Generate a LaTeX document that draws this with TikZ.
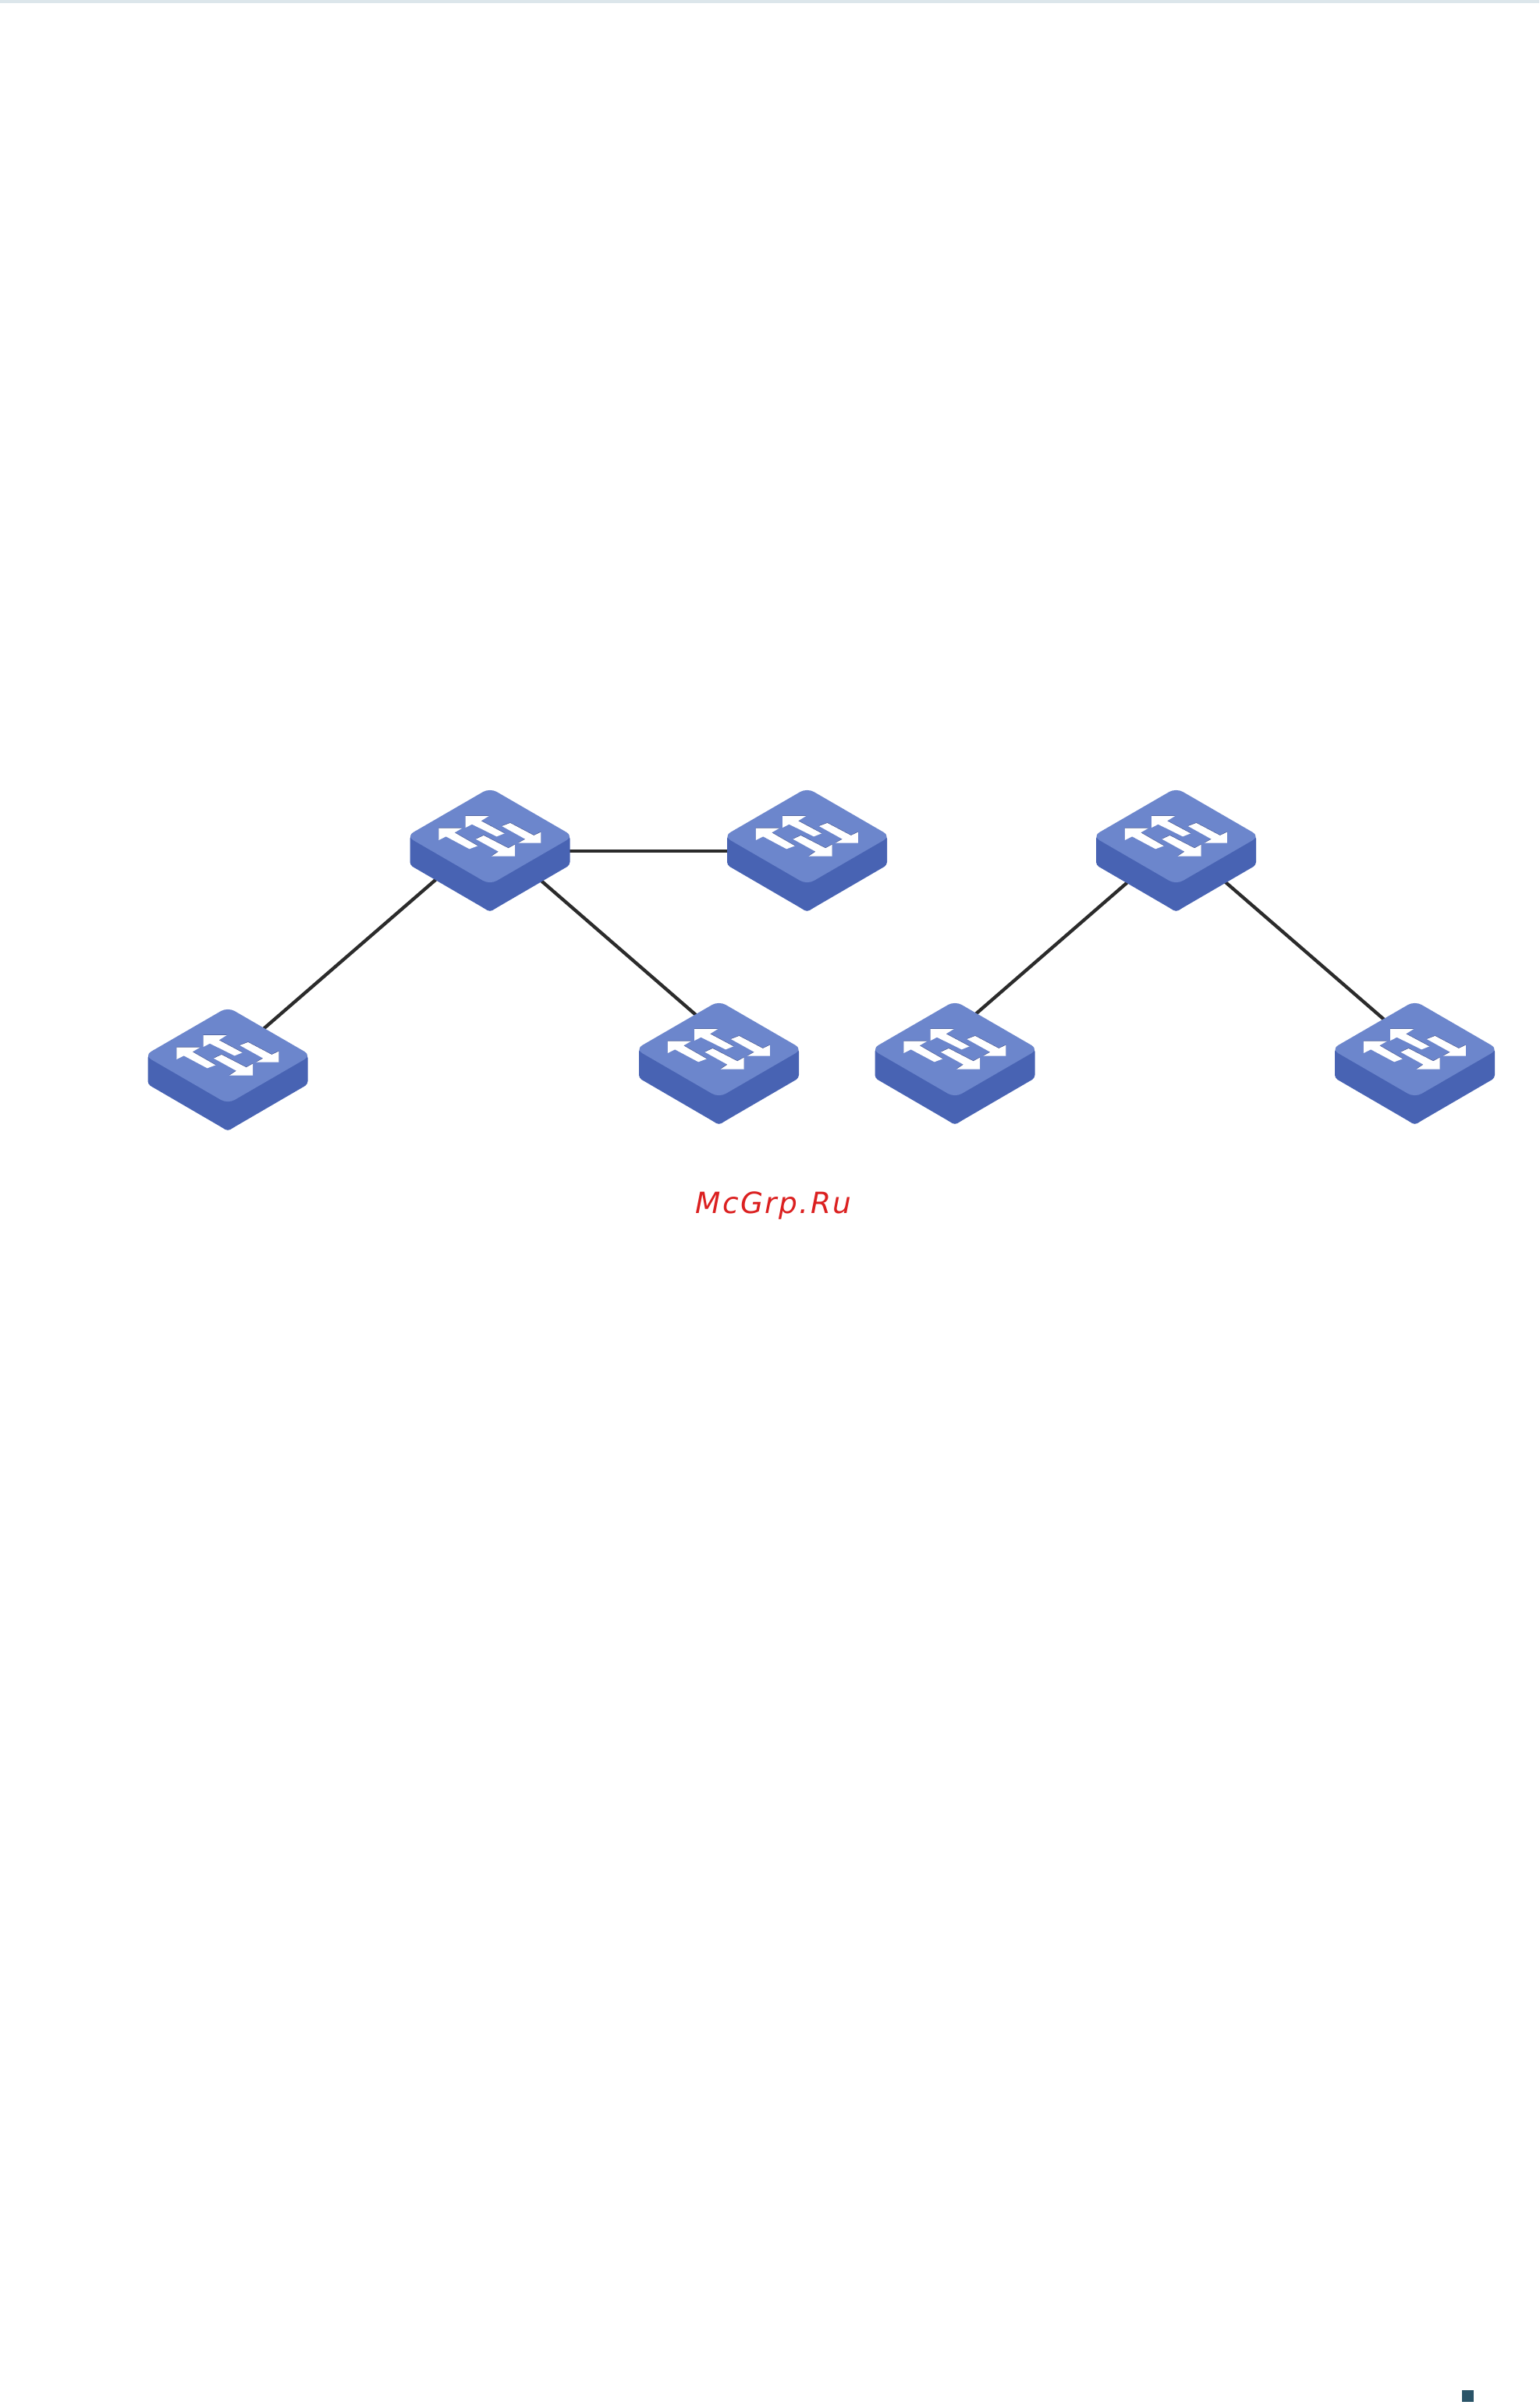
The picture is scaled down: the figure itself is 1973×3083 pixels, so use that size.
\documentclass[tikz,border=0pt]{standalone}
\usepackage{fontspec}
\newfontfamily\wmfont[LetterSpace=6.5]{DejaVu Sans}
\definecolor{faceblue}{HTML}{6C86CC}
\definecolor{sideblue}{HTML}{4863B3}
\definecolor{arrowedge}{HTML}{4A5A92}
\definecolor{linkgray}{HTML}{2B2B2B}
\definecolor{wmred}{HTML}{DB2020}
\definecolor{stripcol}{HTML}{DCE6EB}
\definecolor{markcol}{HTML}{2A5468}
\tikzset{
  x=1pt,y=-1pt,
  devanchor/.style={circle,inner sep=0pt,minimum size=0pt},
  link/.style={draw=linkgray,line width=4.3pt},
  swarrows/.pic={
    \fill (-65.67,-10.33)--(-35.67,-10.33)--(-45.33,-4.67)--(-15.67,12.33)--(-26.33,16.33)--(-56.33,0.33)--(-65.67,5)--cycle;
    \fill (-31.33,-26)--(-1.33,-26)--(-11.33,-19.67)--(18.67,-3.67)--(8.67,0.33)--(-23,-15.33)--(-31.33,-11)--cycle;
    \fill (32,25.67)--(2,25.67)--(11,19.67)--(-18,3.67)--(-8,-1)--(23.67,15.33)--(32,10.67)--cycle;
    \fill (65.33,8.67)--(36.33,8.67)--(45.33,3.67)--(15.33,-13)--(26,-17)--(56.33,-1)--(65.33,-5.33)--cycle;
  },
  switchdev/.pic={
    \fill[sideblue,rounded corners=4pt] (-102.5,-1)--(-102.5,37)--(-8,92)--(0,97)--(8,92)--(102.5,37)--(102.5,-1)--(0,-30)--cycle;
    \fill[faceblue,rounded corners=10pt] (-107,0)--(0,-62)--(107,0)--(0,62)--cycle;
    \pic[arrowedge,yshift=0.7pt] {swarrows};
    \pic[white] {swarrows};
  }
}
\begin{document}
\begin{tikzpicture}
\useasboundingbox (0,0) rectangle (1973,3083);
\fill[stripcol] (0,0) rectangle (1973,4);
\fill[markcol] (1874,3064) rectangle (1889,3079);
\node[devanchor] (s1) at (628,1072) {};
\node[devanchor] (s2) at (1034.5,1072) {};
\node[devanchor] (s3) at (1507.5,1072) {};
\node[devanchor] (s4) at (292,1353) {};
\node[devanchor] (s5) at (921.5,1345) {};
\node[devanchor] (s6) at (1224,1345) {};
\node[devanchor] (s7) at (1813.5,1345) {};
\draw[link] ([yshift=19pt*-1]s1.center) -- ([yshift=19pt*-1]s2.center);
\draw[link] ([yshift=4.5pt]s1.center) -- ([yshift=-5.5pt]s4.center);
\draw[link] (s1.center) -- ([yshift=18.4pt]s5.center);
\draw[link] ([yshift=-5pt]s3.center) -- ([yshift=22pt]s6.center);
\draw[link] ([yshift=-4pt]s3.center) -- ([yshift=4pt]s7.center);
\foreach \n in {s1,s2,s3,s4,s5,s6,s7} \pic at (\n.center) {switchdev};
\node[anchor=base,text=wmred,inner sep=0pt] (wm) at (991.5,1555) {\fontsize{37.5}{40}\selectfont\wmfont\itshape McGrp.Ru};
\end{tikzpicture}
\end{document}
